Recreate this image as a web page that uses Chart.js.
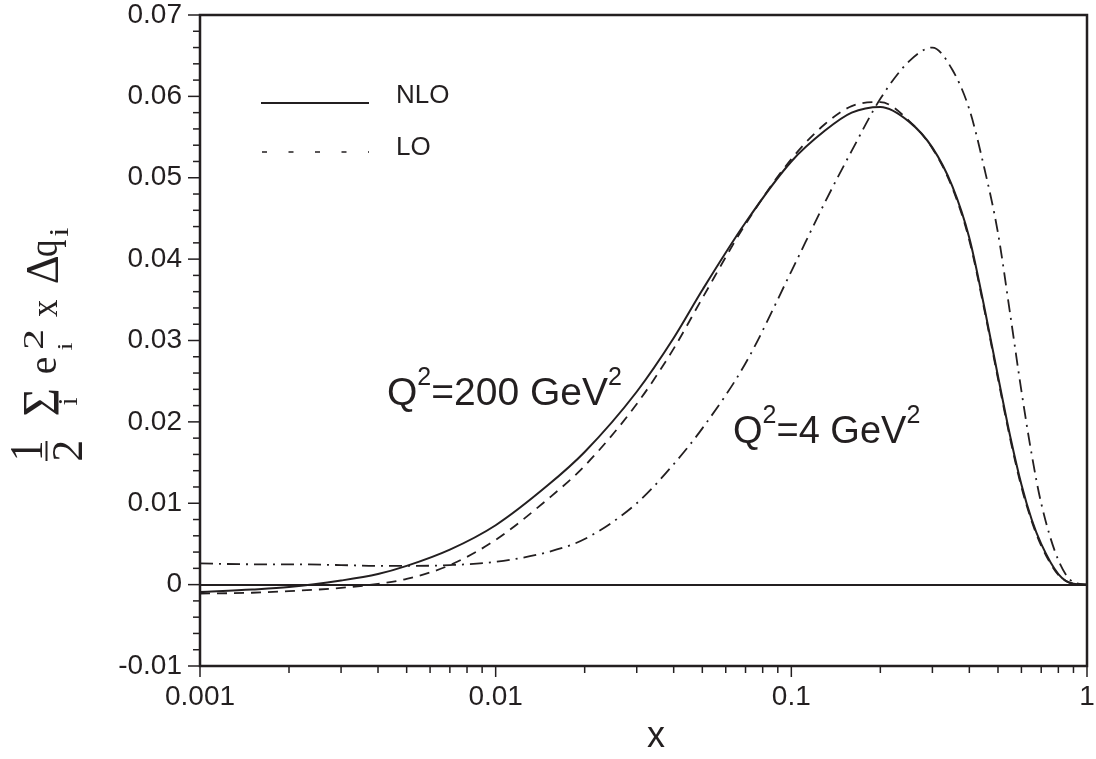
<!DOCTYPE html>
<html><head><meta charset="utf-8">
<script src="https://cdn.jsdelivr.net/npm/chart.js@4"></script>
<style>html,body{margin:0;padding:0;background:#fff}#wrap{width:1096px;height:759px;position:relative}</style>
</head><body><div id="wrap"><canvas id="c" width="1096" height="759"></canvas></div>
<script>
// ---- data ----
const xValues = [0.001, 0.0015, 0.002, 0.003, 0.004, 0.005, 0.007, 0.01, 0.015, 0.02, 0.03, 0.04, 0.05, 0.07, 0.1, 0.13, 0.16, 0.2, 0.25, 0.3, 0.35, 0.4, 0.45, 0.5, 0.55, 0.6, 0.65, 0.7, 0.8, 0.9, 1.0];
const nloQ200 = [-0.0009, -0.0006, -0.0003, 0.0005, 0.0013, 0.0023, 0.0043, 0.0073, 0.0122, 0.0163, 0.0237, 0.0303, 0.0362, 0.0445, 0.0520, 0.0558, 0.0580, 0.0587, 0.0569, 0.0537, 0.0490, 0.0426, 0.0340, 0.0256, 0.0182, 0.0123, 0.0080, 0.0050, 0.0013, 0.0001, 0.0];
const loQ200  = [-0.0011, -0.0010, -0.0008, -0.0004, 0.0001, 0.0007, 0.0024, 0.0055, 0.0105, 0.0146, 0.0222, 0.0290, 0.0352, 0.0443, 0.0523, 0.0566, 0.0588, 0.0593, 0.0570, 0.0536, 0.0488, 0.0423, 0.0337, 0.0253, 0.0179, 0.0120, 0.0078, 0.0048, 0.0012, 0.0001, 0.0];
const q2is4   = [0.0026, 0.0025, 0.0025, 0.0024, 0.0023, 0.0023, 0.0024, 0.0028, 0.0040, 0.0056, 0.0100, 0.0148, 0.0192, 0.0272, 0.0385, 0.0470, 0.0533, 0.0597, 0.0643, 0.0660, 0.0633, 0.0584, 0.0511, 0.0432, 0.0332, 0.0238, 0.0160, 0.0100, 0.0030, 0.0003, 0.0];
const xTickValues = [0.001, 0.01, 0.1, 1];
const xTickLabels = ['0.001', '0.01', '0.1', '1'];
const yMin = -0.01, yMax = 0.07, yStep = 0.01;
const legendLabels = ['NLO', 'LO'];
const annot200 = ['Q', '2', '=200 GeV', '2'];
const annot4 = ['Q', '2', '=4 GeV', '2'];

const SANS = '"Liberation Sans", Arial, sans-serif';
const SERIF = '"Liberation Serif", "Times New Roman", serif';

function pts(ys) { return xValues.map((x, i) => ({ x: x, y: ys[i] })); }

const overlay = {
  id: 'overlay',
  afterDraw(chart) {
    const ctx = chart.ctx, a = chart.chartArea;
    const xs = chart.scales.x, ys = chart.scales.y;
    ctx.save();
    ctx.strokeStyle = '#231f20';
    ctx.fillStyle = '#231f20';
    // frame
    ctx.lineWidth = 2.5;
    ctx.strokeRect(a.left, a.top, a.right - a.left, a.bottom - a.top);
    // y ticks
    ctx.lineWidth = 1.5;
    for (let k = 0; k <= 40; k++) {
      const v = yMin + k * 0.002;
      const py = ys.getPixelForValue(v);
      const len = (k % 5 === 0) ? 12 : 7;
      ctx.beginPath(); ctx.moveTo(a.left - len, py); ctx.lineTo(a.left, py); ctx.stroke();
    }
    // x ticks
    for (const d of [0.001, 0.01, 0.1]) {
      for (let m = 1; m <= 9; m++) {
        const px = xs.getPixelForValue(m * d);
        const len = m === 1 ? 11 : 7;
        ctx.beginPath(); ctx.moveTo(px, a.bottom); ctx.lineTo(px, a.bottom + len); ctx.stroke();
      }
    }
    const p1 = xs.getPixelForValue(1);
    ctx.beginPath(); ctx.moveTo(p1, a.bottom); ctx.lineTo(p1, a.bottom + 11); ctx.stroke();

    // legend
    ctx.lineWidth = 2;
    ctx.beginPath(); ctx.moveTo(261, 103); ctx.lineTo(369, 103); ctx.stroke();
    ctx.setLineDash([5, 21.5]);
    ctx.lineWidth = 1.6;
    ctx.beginPath(); ctx.moveTo(262, 152); ctx.lineTo(369, 152); ctx.stroke();
    ctx.setLineDash([]);
    ctx.font = '26px ' + SANS;
    ctx.textBaseline = 'alphabetic';
    ctx.textAlign = 'left';
    ctx.fillText(legendLabels[0], 396, 103);
    ctx.fillText(legendLabels[1], 396, 155);

    // annotations
    function annot(parts, x0, base, big, small, raise) {
      let x = x0;
      parts.forEach((t, i) => {
        const sup = (i % 2 === 1);
        ctx.font = (sup ? small : big) + 'px ' + SANS;
        ctx.fillText(t, x, sup ? base - raise : base);
        x += ctx.measureText(t).width;
      });
    }
    annot(annot200, 387, 405, 39, 25, 20);
    annot(annot4, 733, 443, 38, 25, 20);

    // x axis title
    ctx.font = '36px ' + SANS;
    ctx.textAlign = 'center';
    ctx.fillText('x', 656, 747);

    // y axis title (rotated, each glyph fitted into its box: page x0..x1, page y0..y1)
    ctx.save();
    ctx.rotate(-Math.PI / 2);
    ctx.textAlign = 'left';
    ctx.textBaseline = 'alphabetic';
    function box(t, x0, x1, y0, y1) {
      ctx.font = '100px ' + SERIF;
      const m = ctx.measureText(t);
      const L = m.actualBoundingBoxLeft, R = m.actualBoundingBoxRight;
      const A = m.actualBoundingBoxAscent, D = m.actualBoundingBoxDescent;
      const su = (y1 - y0) / (L + R), sv = (x1 - x0) / (A + D);
      ctx.save();
      ctx.translate(-y1 + L * su, x0 + A * sv);
      ctx.scale(su, sv);
      ctx.fillText(t, 0, 0);
      ctx.restore();
    }
    box('1', 12, 42, 443, 458);
    box('2', 53, 82, 442, 460);
    ctx.lineWidth = 2;
    ctx.beginPath(); ctx.moveTo(-461, 46.5); ctx.lineTo(-441, 46.5); ctx.stroke();
    box('\u03A3', 25, 60, 390, 415);
    box('i', 58, 77, 398, 405);
    box('e', 37, 56, 358, 373);
    box('i', 58, 72, 343, 350);
    box('2', 23, 43, 331, 348);
    box('x', 40, 57, 300, 317);
    box('\u0394', 28, 58, 257, 283);
    box('q', 38, 66, 240, 256);
    box('i', 49, 68, 228, 236);
    ctx.restore();

    ctx.restore();
  }
};

new Chart(document.getElementById('c'), {
  type: 'line',
  data: {
    datasets: [
      { label: 'NLO Q2=200', data: pts(nloQ200), borderColor: '#231f20', borderWidth: 2, pointRadius: 0, fill: false, cubicInterpolationMode: 'monotone' },
      { label: 'LO Q2=200', data: pts(loQ200), borderColor: '#231f20', borderWidth: 1.8, borderDash: [10, 7], pointRadius: 0, fill: false, cubicInterpolationMode: 'monotone' },
      { label: 'Q2=4', data: pts(q2is4), borderColor: '#231f20', borderWidth: 1.8, borderDash: [13, 6, 2, 6], pointRadius: 0, fill: false, cubicInterpolationMode: 'monotone' }
    ]
  },
  options: {
    responsive: false,
    animation: false,
    devicePixelRatio: 1,
    layout: { padding: { left: 0, right: 9, top: 15, bottom: 0 } },
    plugins: { legend: { display: false }, tooltip: { enabled: false } },
    scales: {
      x: {
        type: 'logarithmic',
        min: 0.001, max: 1,
        afterBuildTicks: s => { s.ticks = xTickValues.map(v => ({ value: v })); },
        afterFit: s => { s.height = 93; s.paddingLeft = 0; s.paddingRight = 0; },
        border: { display: false },
        grid: { display: false, drawTicks: false },
        ticks: {
          autoSkip: false, maxRotation: 0, padding: 17, color: '#231f20',
          font: { family: SANS, size: 28, lineHeight: 1 },
          callback: (v) => { const i = xTickValues.findIndex(t => Math.abs(t - v) < 1e-12); return i >= 0 ? xTickLabels[i] : ''; }
        }
      },
      y: {
        min: yMin, max: yMax,
        afterFit: s => { s.width = 200; s.paddingTop = 0; s.paddingBottom = 0; },
        border: { display: false },
        grid: {
          drawTicks: false,
          color: c => (c.tick && Math.abs(c.tick.value) < 1e-9) ? '#231f20' : 'rgba(0,0,0,0)',
          lineWidth: c => (c.tick && Math.abs(c.tick.value) < 1e-9) ? 2 : 0
        },
        ticks: {
          stepSize: yStep, padding: 18, color: '#231f20',
          font: { family: SANS, size: 28, lineHeight: 1 },
          callback: v => Math.abs(v) < 1e-9 ? '0' : String(+v.toFixed(2))
        }
      }
    }
  },
  plugins: [overlay]
});
</script></body></html>
